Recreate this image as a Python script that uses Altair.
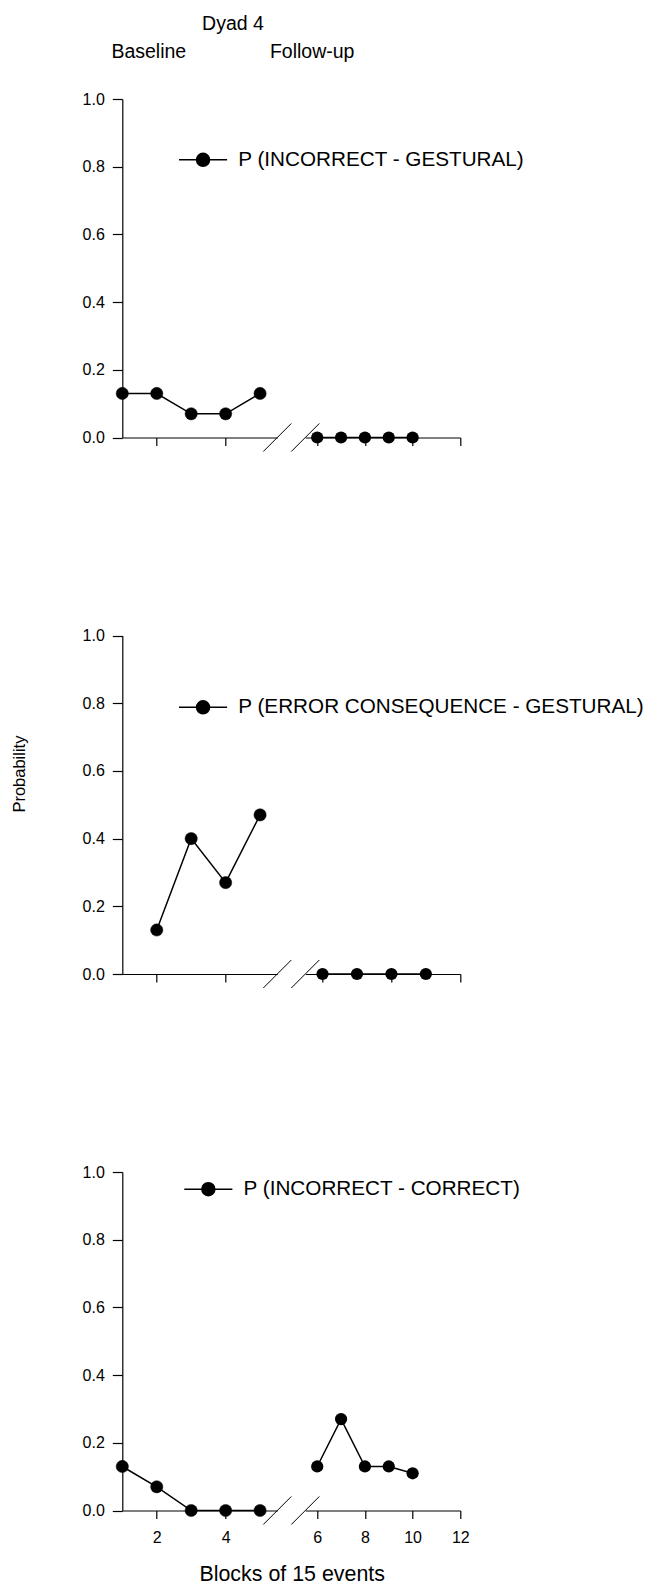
import altair as alt
import pandas as pd

FONT = "Liberation Sans"

# ---- data ----
base_x = [1, 2, 3, 4, 5]
fu_x = [6, 7, 8, 9, 10]

p1_name = "P (INCORRECT - GESTURAL)"
p1_base = [0.13, 0.13, 0.07, 0.07, 0.13]
p1_fu = [0.0, 0.0, 0.0, 0.0, 0.0]

p2_name = "P (ERROR CONSEQUENCE - GESTURAL)"
p2_base_x = [2, 3, 4, 5]
p2_base = [0.13, 0.40, 0.27, 0.47]
p2_fu_x = [6, 7, 8, 9]
p2_fu = [0.0, 0.0, 0.0, 0.0]

p3_name = "P (INCORRECT - CORRECT)"
p3_base = [0.13, 0.07, 0.0, 0.0, 0.0]
p3_fu = [0.13, 0.27, 0.13, 0.13, 0.11]

y_ticks = [0.0, 0.2, 0.4, 0.6, 0.8, 1.0]
base_ticks = [2, 4]
fu_ticks_a = [6, 8, 10, 12]
fu_ticks_b = [6, 8, 10]

# ---- layout (pixels) ----
W1 = 155          # baseline segment width
GAP = 28          # axis break gap
W2 = 155          # follow-up segment width
W = W1 + GAP + W2
H = 338.5         # panel height
STEP = 536.5      # panel top-to-top distance
TOPS = [0, STEP, 2 * STEP]
TOTAL_H = 2 * STEP + H
PAD_L, PAD_T = 122.3, 99
LEGEND_SYMBOL = "M-3.7,0L3.7,0M1,0A1,1,0,1,1,-1,0A1,1,0,1,1,1,0Z"

AX = dict(domainWidth=1.2, tickWidth=1.2, domainColor="black", tickColor="black",
          labelColor="black", titleColor="black", labelFont=FONT, titleFont=FONT,
          titleFontWeight="normal", grid=False)


def slash(cx, top):
    cy = top + H
    return alt.Chart(pd.DataFrame({"d": [0]})).mark_rule(color="black", strokeWidth=1).encode(
        x=alt.value(cx - 14), x2=alt.value(cx + 14), y=alt.value(cy + 14), y2=alt.value(cy - 14)
    )


def row_chart(top, bx, by, name, fx, fy, fu_max, fu_ticks, legend_xy, show_labels=False,
              ytitle=None, base_title=None, fu_title=None):
    bdf = pd.DataFrame({"x": bx, "y": by, "series": [name] * len(bx)})
    fdf = pd.DataFrame({"x": fx, "y": fy})
    x_off = -(TOTAL_H - (top + H))

    yaxis = dict(orient="left", values=y_ticks, format=".1f", tickSize=10, labelPadding=8,
                 labelFontSize=16, title=None, **AX)
    if ytitle:
        yaxis.update(ytitle)
    y = alt.Y("y:Q", scale=alt.Scale(domain=[0, 1], range=[top + H, top], nice=False, zero=False),
              axis=alt.Axis(**yaxis))

    bax = dict(orient="bottom", offset=x_off, values=base_ticks, tickSize=8, labelPadding=10.5,
               labelFontSize=16, labels=show_labels, labelFlush=False, title=None, **AX)
    if base_title:
        bax.update(base_title)
    xb = alt.X("x:Q", scale=alt.Scale(domain=[1, 5.5], range=[0, W1], nice=False, zero=False),
               axis=alt.Axis(**bax))

    fax = dict(orient="bottom", offset=x_off, values=fu_ticks, tickSize=8, labelPadding=10.5,
               labelFontSize=16, labels=show_labels, labelFlush=False, title=None, **AX)
    if fu_title:
        fax.update(fu_title)
    xf = alt.X("x:Q", scale=alt.Scale(domain=[5.5, fu_max], range=[W1 + GAP, W], nice=False,
                                      zero=False),
               axis=alt.Axis(**fax))

    leg = alt.Legend(
        title=None, orient="none", legendX=legend_xy[0], legendY=top + legend_xy[1],
        symbolType=LEGEND_SYMBOL, symbolSize=169, symbolStrokeWidth=1.5,
        symbolOpacity=1, labelFontSize=20.7, labelFont=FONT, labelColor="black",
        labelOffset=24.9, labelLimit=600, padding=0,
    )
    b_line = alt.Chart(bdf).mark_line(color="black", strokeWidth=1.5).encode(x=xb, y=y)
    b_pts = alt.Chart(bdf).mark_point(filled=True, size=150, opacity=1, strokeWidth=0.5).encode(
        x=xb, y=y,
        fill=alt.Fill("series:N", scale=alt.Scale(range=["black"]), legend=leg),
        stroke=alt.Stroke("series:N", scale=alt.Scale(range=["black"]), legend=leg),
    )
    base = alt.layer(b_line, b_pts, slash(W1, top))

    f_line = alt.Chart(fdf).mark_line(color="black", strokeWidth=1.5).encode(x=xf, y=y)
    f_pts = alt.Chart(fdf).mark_point(filled=True, size=150, opacity=1, color="black").encode(
        x=xf, y=y)
    fu = alt.layer(f_line, f_pts, slash(W1 + GAP, top))

    return alt.layer(base, fu).resolve_scale(x="independent")


TITLE20 = dict(titleFontSize=19.5, titleBaseline="alphabetic", titleAlign="center",
               titleAngle=0)

r1 = row_chart(
    TOPS[0], base_x, p1_base, p1_name, fu_x, p1_fu, 12, fu_ticks_a, (70.4, 50.5),
    ytitle=dict(title="Dyad 4", titleX=110.2, titleY=-69.7, **TITLE20),
    base_title=dict(title="Baseline", titleX=26, titleY=-380.2, **TITLE20),
    fu_title=dict(title="Follow-up", titleX=189.4, titleY=-380.2, **TITLE20),
)
r2 = row_chart(
    TOPS[1], p2_base_x, p2_base, p2_name, p2_fu_x, p2_fu, 10, fu_ticks_b, (70.4, 61.5),
    ytitle=dict(title="Probability", titleX=-97.5, titleY=674.6, titleAngle=270,
                titleBaseline="alphabetic", titleAlign="center", titleFontSize=16.5),
)
r3 = row_chart(
    TOPS[2], base_x, p3_base, p3_name, fu_x, p3_fu, 12, fu_ticks_a, (75.7, 6.8),
    show_labels=True,
    base_title=dict(title="Blocks of 15 events", titleX=169.4, titleY=70,
                    titleBaseline="alphabetic", titleAlign="center", titleFontSize=21.4),
)

chart = alt.layer(r1, r2, r3).resolve_scale(
    x="independent", y="independent", fill="independent", stroke="independent"
).resolve_legend(fill="independent", stroke="independent").properties(
    width=W, height=TOTAL_H,
    autosize=alt.AutoSizeParams(type="none"),
    padding={"left": PAD_L, "top": PAD_T, "right": 656 - PAD_L - W,
             "bottom": 1589 - PAD_T - TOTAL_H},
).configure(font=FONT).configure_view(stroke=None)

chart.save("out.html", embed_options={"renderer": "svg", "actions": False})
